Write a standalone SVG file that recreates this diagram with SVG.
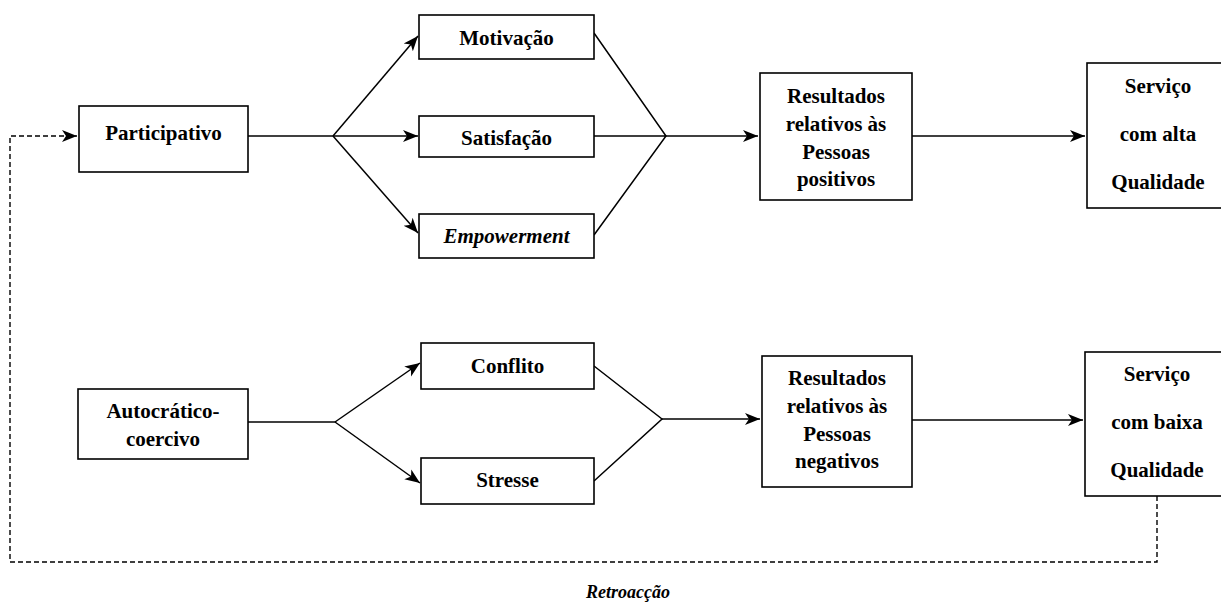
<svg xmlns="http://www.w3.org/2000/svg" width="1221" height="603" viewBox="0 0 1221 603">
<style>
.box{fill:#fff;stroke:#000;stroke-width:1.6}
.t{font-family:"Liberation Serif","Times New Roman",serif;font-weight:bold;font-size:21px;text-anchor:middle;fill:#000}
.i{font-style:italic}
.c{fill:none;stroke:#000;stroke-width:1.5}
.d{fill:none;stroke:#000;stroke-width:1.4;stroke-dasharray:5,3}
</style>
<defs>
<marker id="ah" markerUnits="userSpaceOnUse" markerWidth="16" markerHeight="14" viewBox="0 -7 16 14" refX="15" refY="0" orient="auto">
<path d="M0,-6 L15,0 L0,6 L4,0 z" fill="#000"/>
</marker>
</defs>
<rect width="1221" height="603" fill="#fff"/>
<g id="connectors">
<path class="c" d="M248,136 H333"/>
<path class="c" d="M333,136 L418,36" marker-end="url(#ah)"/>
<path class="c" d="M333,136 H418" marker-end="url(#ah)"/>
<path class="c" d="M333,136 L418,233" marker-end="url(#ah)"/>
<path class="c" d="M594,33 L666,136 L594,235 M594,136 H666"/>
<path class="c" d="M666,136 H758" marker-end="url(#ah)"/>
<path class="c" d="M912,136 H1085" marker-end="url(#ah)"/>
<path class="c" d="M248,422 H335"/>
<path class="c" d="M335,422 L420,363" marker-end="url(#ah)"/>
<path class="c" d="M335,422 L420,483" marker-end="url(#ah)"/>
<path class="c" d="M594,366 L662,419 L594,481"/>
<path class="c" d="M662,419 H760" marker-end="url(#ah)"/>
<path class="c" d="M912,420 H1083" marker-end="url(#ah)"/>
<path class="d" d="M1157,496 V562 H10 V136 H77" marker-end="url(#ah)"/>
</g>
<g id="participativo"><rect class="box" x="79" y="106" width="169" height="66"/><text class="t" x="163.5" y="140">Participativo</text></g>
<g id="motivacao"><rect class="box" x="419" y="15" width="175" height="44"/><text class="t" x="506.5" y="45">Motivação</text></g>
<g id="satisfacao"><rect class="box" x="419" y="116" width="175" height="41"/><text class="t" x="506.5" y="145">Satisfação</text></g>
<g id="empowerment"><rect class="box" x="419" y="214" width="175" height="44"/><text class="t i" x="506.5" y="243">Empowerment</text></g>
<g id="resultados-positivos"><rect class="box" x="760" y="73" width="152" height="127"/>
<text class="t" x="836" y="103">Resultados</text><text class="t" x="836" y="131">relativos às</text><text class="t" x="836" y="159">Pessoas</text><text class="t" x="836" y="186">positivos</text></g>
<g id="servico-alta"><rect class="box" x="1087" y="63" width="142" height="145"/>
<text class="t" x="1158" y="93">Serviço</text><text class="t" x="1158" y="141">com alta</text><text class="t" x="1158" y="189">Qualidade</text></g>
<g id="autocratico"><rect class="box" x="78" y="389" width="170" height="70"/>
<text class="t" x="163" y="418">Autocrático-</text><text class="t" x="163" y="446">coercivo</text></g>
<g id="conflito"><rect class="box" x="421" y="343" width="173" height="46"/><text class="t" x="507.5" y="373">Conflito</text></g>
<g id="stresse"><rect class="box" x="421" y="458" width="173" height="46"/><text class="t" x="507.5" y="487">Stresse</text></g>
<g id="resultados-negativos"><rect class="box" x="762" y="356" width="150" height="131"/>
<text class="t" x="837" y="385">Resultados</text><text class="t" x="837" y="413">relativos às</text><text class="t" x="837" y="441">Pessoas</text><text class="t" x="837" y="468">negativos</text></g>
<g id="servico-baixa"><rect class="box" x="1085" y="352" width="144" height="144"/>
<text class="t" x="1157" y="381">Serviço</text><text class="t" x="1157" y="429">com baixa</text><text class="t" x="1157" y="477">Qualidade</text></g>
<g id="retroaccao-label"><text class="t i" x="628" y="598" style="font-size:18px">Retroacção</text></g>
</svg>
